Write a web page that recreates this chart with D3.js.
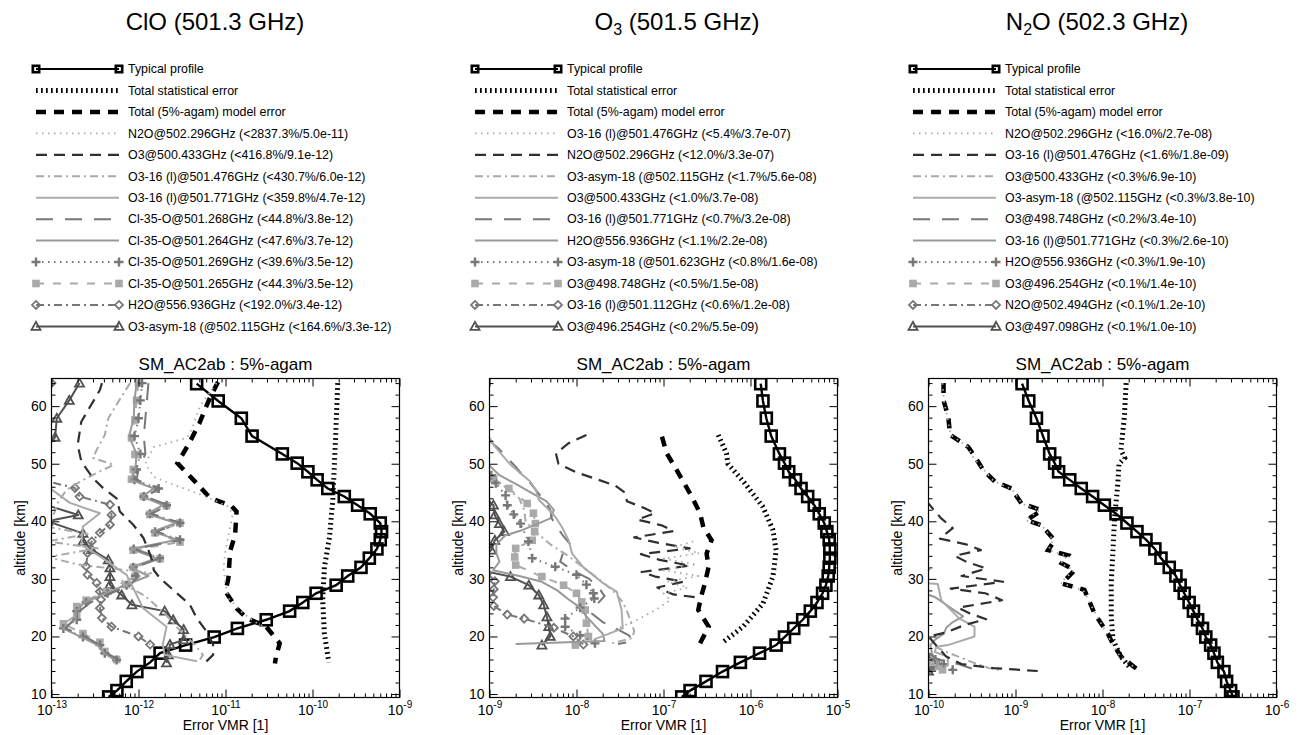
<!DOCTYPE html>
<html><head><meta charset="utf-8">
<script src="https://cdn.jsdelivr.net/npm/d3@7"></script>
<style>body{margin:0;background:#fff;} svg{display:block;font-family:"Liberation Sans",Arial,sans-serif;}</style>
</head><body><svg id="c" width="1302" height="735"></svg>
<script>
// ---------------- DATA ----------------
// altitude grid of the typical profiles [km]
const profileAlt = [9.5,10.6,12.2,13.9,15.5,17.1,18.5,19.9,21.4,22.9,24.4,25.9,27.5,28.9,30.5,32.0,33.6,35.2,36.8,38.2,39.7,41.3,42.8,44.3,45.7,47.2,48.6,50.1,51.7,54.8,57.9,60.9,63.9];

// ---- Panel 1 : ClO ----
const cloTitle = ["ClO", "", " (501.3 GHz)"];
const cloTicks = [1e-13,1e-12,1e-11,1e-10,1e-9];
const cloTypical = [4.54e-13,5.65e-13,7.23e-13,9.57e-13,1.36e-12,1.77e-12,3.48e-12,7.41e-12,1.37e-11,2.94e-11,5.46e-11,7.74e-11,1.10e-10,1.87e-10,2.54e-10,3.61e-10,4.50e-10,5.50e-10,6.01e-10,6.22e-10,6.01e-10,4.61e-10,3.30e-10,2.32e-10,1.50e-10,1.13e-10,8.85e-11,6.67e-11,4.50e-11,2.02e-11,1.52e-11,8.24e-12,4.66e-12];
const cloStat = [[64,1.95e-10],[55,1.85e-10],[47,1.75e-10],[43.7,1.71e-10],[37.3,1.57e-10],[32,1.37e-10],[26.3,1.31e-10],[20.5,1.37e-10],[15.5,1.54e-10]];
const cloModel = [[64.2,8.2e-12],[61.4,6.6e-12],[57,5.0e-12],[53.3,3.74e-12],[50.1,2.8e-12],[46.9,4.47e-12],[44.1,6.6e-12],[42.6,1.18e-11],[41.7,1.34e-11],[37.7,1.29e-11],[34.8,1.13e-11],[30.1,1.08e-11],[27.8,1.0e-11],[24.9,1.34e-11],[23.2,1.75e-11],[21.7,2.94e-11],[18.8,4.2e-11],[16.5,3.8e-11],[15.3,3.7e-11]];
const cloS1 = [[64,7.9e-12],[60,5.1e-12],[56,4.1e-12],[54.5,3.6e-12],[52.9,1.5e-12],[50,1.2e-12],[47.7,1.5e-12],[46.3,2.6e-12],[44.5,5.5e-12],[42.5,1.1e-11],[41,1.2e-11],[38,1.1e-11],[35,1.0e-11],[32,9.5e-12],[29,1.0e-11],[26.5,1.1e-11],[24,1.6e-11],[22.5,2.2e-11],[21.5,2.9e-11]];
const cloS2 = [[64,3.8e-13],[62.8,3.6e-13],[57.3,2.2e-13],[53.3,2.0e-13],[50.4,2.2e-13],[47.5,3.0e-13],[45.8,3.9e-13],[44.0,5.6e-13],[41.7,6.1e-13],[39.4,8.7e-13],[37.1,1.14e-12],[35,1.3e-12],[33,1.45e-12],[31.5,1.5e-12],[30.1,1.77e-12],[27.8,2.63e-12],[25.5,3.9e-12],[23.2,4.66e-12],[20.9,6.05e-12],[18.6,7.2e-12],[16.8,7.2e-12],[15.1,5.5e-12]];
const cloS3 = [[64,8.0e-13],[61,6.0e-13],[57.9,4.5e-13],[55,4.1e-13],[52.4,3.3e-13],[51,3.0e-13],[49.8,5.2e-13],[48.5,3.4e-13],[47,2.2e-13],[45.5,1.5e-13],[43.5,1.2e-13],[41,1.05e-13],[39,9.5e-14],[37.8,2.6e-13],[36.5,9e-14],[35.3,3.4e-13],[33.8,9e-14],[32.5,2.0e-13],[31,1.4e-12],[29.5,6e-13],[27,1.2e-12],[24,2.0e-12],[21,3.0e-12],[18.5,4.5e-12],[16.8,5.5e-12],[15.8,5.0e-12]];
const cloS4 = [[47,8e-14],[45.8,9.5e-14],[43.2,1.63e-13],[41.4,3.6e-13],[39.1,2.3e-13],[35.9,2.2e-13],[33.9,3.6e-13],[30.7,7.3e-13],[27.8,9.1e-13],[24.9,1.13e-12],[21.7,2.1e-12],[18.6,1.9e-12],[16.8,2.0e-12],[15.7,4.7e-12]];
const cloS5 = [[64,1.3e-12],[61,1.25e-12],[57.9,1.2e-12],[54.8,1.15e-12],[51.7,1.2e-12],[49,1.0e-12],[47.2,9.5e-13],[45.7,1.75e-12],[44.3,1.2e-12],[42.8,2.2e-12],[41.3,1.4e-12],[39.7,3.1e-12],[38.2,1.6e-12],[36.8,3.2e-12],[35.2,9e-13],[33.6,1.8e-12],[32,9e-13],[30.5,1.0e-12],[28.9,8.0e-13],[27.5,4.8e-13],[25.9,2.8e-13],[24.4,2.1e-13],[22.9,1.8e-13],[21.4,1.45e-13],[19.9,2.5e-13],[18.5,3.6e-13],[17.1,4.3e-13],[15.9,6.0e-13]];
const cloS6 = [[64,9.5e-13],[61,9.0e-13],[57.9,8.8e-13],[54.8,7.8e-13],[51.7,9.5e-13],[49,9.2e-13],[47.2,8.2e-13],[45.7,1.5e-12],[44.3,1.1e-12],[42.8,1.9e-12],[41.3,1.25e-12],[39.7,2.7e-12],[38.2,1.45e-12],[36.8,2.8e-12],[35.2,8.2e-13],[33.6,1.6e-12],[32,8.2e-13],[30.5,1.3e-12],[28.9,7.0e-13],[27.5,4.2e-13],[25.9,2.4e-13],[24.4,1.9e-13],[22.9,1.9e-13],[21.4,1.35e-13],[19.9,2.2e-13],[18.5,3.4e-13],[17.1,4.0e-13],[15.9,5.4e-13]];
const cloS7 = [[64,1.1e-12],[61,1.05e-12],[57.9,1.0e-12],[54.8,9.0e-13],[51.7,1.05e-12],[49,9.5e-13],[47.2,9.0e-13],[45.7,1.7e-12],[44.3,1.15e-12],[42.8,2.1e-12],[41.3,1.35e-12],[39.7,3.0e-12],[38.2,1.55e-12],[36.8,3.0e-12],[35.2,8.8e-13],[33.6,1.75e-12],[32,8.7e-13],[30.5,9.2e-13],[28.9,7.3e-13],[27.5,4.4e-13],[25.9,2.5e-13],[24.4,1.95e-13],[22.9,1.95e-13],[21.4,1.37e-13],[19.9,2.3e-13],[18.5,3.6e-13],[17.1,4.1e-13],[15.9,5.6e-13]];
const cloS8 = [[64,1.0e-12],[61,9.5e-13],[57.6,9.1e-13],[54.5,8.3e-13],[51.6,9.1e-13],[49,8.7e-13],[47.3,8.3e-13],[45.6,1.6e-12],[44.3,1.14e-12],[42.7,2.1e-12],[41.2,1.35e-12],[39.7,3.0e-12],[38.0,1.55e-12],[36.4,3.0e-12],[35.0,8.7e-13],[33.5,1.77e-12],[32.0,8.7e-13],[30.4,9.1e-13],[29.0,7.3e-13],[27.8,4.3e-13],[26.3,2.5e-13],[25.2,1.95e-13],[23.7,1.95e-13],[22.2,1.37e-13],[20.5,2.3e-13],[19.0,3.6e-13],[17.4,4.1e-13],[16.0,5.6e-13]];
const cloS9 = [[64,1.0e-13],[61,8e-14],[47,8.5e-14],[45.8,1.86e-13],[44.3,2.1e-13],[42.9,4.7e-13],[41.1,4.9e-13],[39.4,4.7e-13],[38.0,3.6e-13],[36.5,2.9e-13],[34.5,2.6e-13],[32.2,2.5e-13],[30.7,2.6e-13],[29.3,3.3e-13],[27.8,3.6e-13],[26.4,3.7e-13],[24.9,3.6e-13],[23.2,3.8e-13],[21.7,4.9e-13],[20.0,1.0e-12],[18.6,1.36e-12]];
const cloS10 = [[64,2.1e-13],[61,1.6e-13],[57.9,1.15e-13],[54.6,1.1e-13],[52,8e-14],[43,8e-14],[41.1,2.03e-13],[40,9e-14],[37.9,2.3e-13],[36.5,2.3e-13],[35.1,2.9e-13],[33.3,4.5e-13],[31.9,4.7e-13],[30.4,4.7e-13],[29,4.7e-13],[27.2,6.4e-13],[25.5,8.4e-13],[24.4,2.0e-12],[22.9,2.5e-12],[21.2,3.3e-12],[19.4,3.3e-12],[18.6,2.3e-12],[16.8,2.2e-12],[15.4,2.1e-12]];
const cloLabels = ["Typical profile","Total statistical error","Total (5%-agam) model error",
 "N2O@502.296GHz (<2837.3%/5.0e-11)","O3@500.433GHz (<416.8%/9.1e-12)","O3-16 (l)@501.476GHz (<430.7%/6.0e-12)",
 "O3-16 (l)@501.771GHz (<359.8%/4.7e-12)","Cl-35-O@501.268GHz (<44.8%/3.8e-12)","Cl-35-O@501.264GHz (<47.6%/3.7e-12)",
 "Cl-35-O@501.269GHz (<39.6%/3.5e-12)","Cl-35-O@501.265GHz (<44.3%/3.5e-12)","H2O@556.936GHz (<192.0%/3.4e-12)",
 "O3-asym-18 (@502.115GHz (<164.6%/3.3e-12)"];

// ---- Panel 2 : O3 ----
const o3Title = ["O", "3", " (501.5 GHz)"];
const o3Ticks = [1e-9,1e-8,1e-7,1e-6,1e-5];
const o3Typical = [1.62e-7,2.02e-7,3.08e-7,4.77e-7,7.65e-7,1.27e-6,1.97e-6,2.46e-6,3.14e-6,3.98e-6,4.87e-6,5.81e-6,6.74e-6,7.36e-6,7.82e-6,8.03e-6,8.17e-6,8.17e-6,8.03e-6,7.55e-6,7.04e-6,6.17e-6,5.41e-6,4.54e-6,3.81e-6,3.28e-6,2.75e-6,2.46e-6,2.15e-6,1.73e-6,1.52e-6,1.39e-6,1.31e-6];
const o3Stat = [[55,4.26e-7],[51.8,5.3e-7],[50,5.5e-7],[46.6,8.6e-7],[42.5,1.39e-6],[38.5,1.81e-6],[35,1.97e-6],[30.4,1.81e-6],[25.7,1.39e-6],[21.7,8.2e-7],[18.8,4.65e-7]];
const o3Model = [[54.7,9.6e-8],[51.8,1.09e-7],[48.9,1.42e-7],[44.3,2.11e-7],[41.4,2.63e-7],[39,2.87e-7],[36.7,3.57e-7],[34.4,3.13e-7],[32.1,3.3e-7],[29.2,2.99e-7],[26.9,2.7e-7],[24.6,2.51e-7],[21.7,3.3e-7],[18.8,2.63e-7]];
const o3S1 = [[36.5,2.2e-7],[35.5,1.3e-7],[34.5,2.6e-7],[33.5,1.0e-7],[32.5,2.4e-7],[31.5,1.0e-7],[30.5,2.5e-7],[29.5,1.1e-7],[28.5,1.9e-7],[27.5,1.0e-7],[26.3,1.2e-7],[24.8,8.5e-8],[23.2,5.5e-8],[21.7,3.3e-8],[20.2,2.2e-8]];
const o3S2 = [[55,1.3e-8],[53.5,8e-9],[51.8,5.8e-9],[50,6.2e-9],[48.5,1.0e-8],[47.2,1.8e-8],[46.2,2.8e-8],[45,3.6e-8],[43.5,3.8e-8],[42.3,6.0e-8],[41.4,8.0e-8],[40.3,5.0e-8],[39.3,9.5e-8],[38.3,1.3e-7],[37.2,4.6e-8],[36.3,8.5e-8],[35.3,2.0e-7],[34.3,5.5e-8],[33.3,9e-8],[32.3,2.0e-7],[31.2,5.6e-8],[30.4,8e-8],[29.5,1.7e-7],[28.5,8.5e-8],[27.3,1.3e-7],[26.8,2.4e-7]];
const o3S3 = [[48,1.0e-9],[46,1.5e-9],[44,2.2e-9],[42,2.5e-9],[40,2.6e-9],[38,3.5e-9],[36,5.0e-9],[34,8e-9],[32,1.2e-8],[30,1.8e-8],[28,2.6e-8],[26,3.4e-8],[24,3.9e-8],[22.5,4.2e-8],[21,4.6e-8],[19.7,4.4e-8],[18.8,2.5e-8]];
const o3S4 = [[54.5,1.0e-9],[53,1.15e-9],[51.5,1.4e-9],[50,1.7e-9],[48.5,2.2e-9],[47,2.9e-9],[45.5,3.4e-9],[43.7,3.7e-9],[42,4.8e-9],[40.8,5.7e-9],[39,6.8e-9],[36.7,8.1e-9],[34.4,8.9e-9],[32,1.2e-8],[29.2,2.04e-8],[27.8,2.9e-8],[24.6,3.3e-8],[21.4,3.4e-8],[20.2,2.1e-8],[19.5,1.6e-8]];
const o3S5 = [[54,1.0e-9],[52.5,1.3e-9],[51,1.6e-9],[49.5,2.0e-9],[48,2.4e-9],[46.5,3.0e-9],[45,3.6e-9],[43.5,4.3e-9],[42,5.0e-9],[40.5,5.2e-9],[39,6.0e-9],[37.5,7.0e-9],[36,8.5e-9],[34.5,7.0e-9],[33,6.5e-9],[31.5,9e-9],[30,1.4e-8],[28.5,1.8e-8],[27,2.1e-8],[25.5,1.7e-8],[24,1.5e-8],[22.5,2.0e-8],[21.2,3.0e-8],[20.2,4.0e-8],[19.2,4.5e-8],[18.7,3.0e-8]];
const o3S6 = [[50,9.5e-10],[48,1.3e-9],[46.5,2.0e-9],[45,3.0e-9],[43.5,4.5e-9],[42,5.5e-9],[40.5,5.0e-9],[39.5,3.5e-9],[38.5,2.4e-9],[37.5,1.5e-9],[36,1.2e-9],[34.5,1.2e-9],[33,1.3e-9],[31.5,1.1e-9],[30.5,2.2e-9],[29.5,4.0e-9],[28,6e-9],[26.5,8e-9],[25,1.1e-8],[23.5,1.3e-8],[22,1.6e-8],[20.5,2.0e-8],[19.2,2.1e-8],[18.7,2.0e-9]];
const o3S7 = [[48,1.05e-9],[46.6,1.18e-9],[44.5,1.53e-9],[42.8,1.6e-9],[41.2,1.9e-9],[39.6,2.27e-9],[36.5,2.8e-9],[33.6,3.1e-9],[32.1,5.7e-9],[30.7,1.0e-8],[29,1.3e-8],[27.5,1.56e-8],[26.6,1.6e-8],[25,1.1e-8],[23.1,7.4e-9],[21.7,7.4e-9],[20.2,1.1e-8],[18.8,1.63e-8]];
const o3S8 = [[47.4,1.12e-9],[45.7,1.67e-9],[43.1,2.71e-9],[41.4,3.2e-9],[39.6,3.37e-9],[38.2,3.3e-9],[36.7,3.1e-9],[35.3,2.0e-9],[33.8,1.95e-9],[32.4,2.0e-9],[30.4,4.0e-9],[28.9,7.1e-9],[27.5,1.0e-8],[26,1.15e-8],[24.6,1.26e-8],[22.3,1.3e-8],[20,1.37e-8],[18.5,9.7e-9]];
const o3S9 = [[31,9.5e-10],[29.6,1.15e-9],[28.2,1.12e-9],[26.8,1.1e-9],[25.3,1.12e-9],[23.8,1.6e-9],[23.1,2.5e-9],[21.5,5.5e-9],[20,9.2e-9],[18.6,1.2e-8]];
const o3S10 = [[44,9e-10],[42.8,1.11e-9],[41.1,1.15e-9],[39.6,1.3e-9],[38.2,1.48e-9],[36.7,1.15e-9],[35,1.05e-9],[33.5,8e-10],[31.5,8e-10],[30.4,1.74e-9],[28.9,2.83e-9],[27.2,3.68e-9],[25.5,4.2e-9],[23.4,4.57e-9],[21.7,4.8e-9],[20,5.0e-9],[18.5,4.0e-9]];
const o3Labels = ["Typical profile","Total statistical error","Total (5%-agam) model error",
 "O3-16 (l)@501.476GHz (<5.4%/3.7e-07)","N2O@502.296GHz (<12.0%/3.3e-07)","O3-asym-18 (@502.115GHz (<1.7%/5.6e-08)",
 "O3@500.433GHz (<1.0%/3.7e-08)","O3-16 (l)@501.771GHz (<0.7%/3.2e-08)","H2O@556.936GHz (<1.1%/2.2e-08)",
 "O3-asym-18 (@501.623GHz (<0.8%/1.6e-08)","O3@498.748GHz (<0.5%/1.5e-08)","O3-16 (l)@501.112GHz (<0.6%/1.2e-08)",
 "O3@496.254GHz (<0.2%/5.5e-09)"];

// ---- Panel 3 : N2O ----
const n2oTitle = ["N", "2", "O (502.3 GHz)"];
const n2oTicks = [1e-10,1e-9,1e-8,1e-7,1e-6];
const n2oTypical = [3.16e-7,2.97e-7,2.67e-7,2.49e-7,2.09e-7,1.91e-7,1.75e-7,1.54e-7,1.41e-7,1.24e-7,1.11e-7,9.9e-8,8.7e-8,7.8e-8,6.98e-8,5.85e-8,4.7e-8,4.0e-8,3.16e-8,2.49e-8,1.91e-8,1.43e-8,1.05e-8,7.7e-9,5.7e-9,4.2e-9,3.13e-9,2.82e-9,2.47e-9,2.07e-9,1.74e-9,1.42e-9,1.19e-9];
const n2oStat = [[64,1.87e-8],[58.1,1.78e-8],[52.4,1.63e-8],[51,1.8e-8],[50,1.55e-8],[46.6,1.5e-8],[43.7,1.44e-8],[40.8,1.38e-8],[35,1.32e-8],[29.2,1.26e-8],[23.4,1.26e-8],[19.4,1.32e-8],[16.5,1.63e-8],[14.7,2.04e-8]];
const n2oModel = [[64,1.49e-10],[61,1.49e-10],[58.1,1.69e-10],[55,1.77e-10],[52.9,2.87e-10],[51.2,3.42e-10],[48.9,4.26e-10],[46.9,5.8e-10],[45.7,9.0e-10],[43.1,1.17e-9],[41.9,1.99e-9],[40.2,1.34e-9],[39.3,1.99e-9],[36.7,2.82e-9],[35,2.37e-9],[34.1,4.0e-9],[32.7,3.4e-9],[31.5,4.8e-9],[29.2,3.4e-9],[28.1,6.2e-9],[24,8.1e-9],[20.5,1.15e-8],[18.8,1.31e-8],[16.5,1.64e-8],[14.2,2.54e-8]];
const n2oS1 = [[64,1.45e-10],[61,1.5e-10],[58,1.65e-10],[55,1.8e-10],[53,2.8e-10],[51,3.3e-10],[49,4.3e-10],[47,5.6e-10],[45.5,9.2e-10],[43,1.2e-9],[42,1.9e-9],[40.2,1.3e-9],[39.3,2.0e-9],[36.8,2.7e-9],[35,2.4e-9],[34,3.9e-9],[32.7,3.3e-9],[31.5,4.7e-9],[29.3,3.3e-9],[28,6.0e-9],[24,8.3e-9],[20.5,1.12e-8],[18.8,1.28e-8],[16.5,1.6e-8],[14.3,2.5e-8]];
const n2oS2 = [[43.5,9.5e-11],[42,1.15e-10],[40.5,1.4e-10],[38.8,1.9e-10],[37,1.35e-10],[36,2.7e-10],[35,4.0e-10],[34,2.0e-10],[33,2.7e-10],[31.8,4.6e-10],[30.5,2.4e-10],[29.5,7.2e-10],[28.3,1.8e-10],[27.5,4.5e-10],[26.3,7.0e-10],[25,2.2e-10],[24,3.0e-10],[23,4.6e-10],[22,2.6e-10],[20.7,1.6e-10],[20,1.0e-10],[18,1.3e-10],[16.5,1.6e-10],[15.2,2.4e-10],[14.5,5.6e-10],[14.0,1.8e-9]];
const n2oS3 = [[32.5,9e-11],[31.5,1.05e-10],[30,9e-11],[20,9.5e-11],[18.5,1.1e-10],[17.5,1.5e-10],[16.5,2.2e-10],[15.5,3.2e-10],[14.5,5.0e-10],[14.2,6.5e-10]];
const n2oS4 = [[29.3,9e-11],[29.1,1.28e-10],[26.3,1.4e-10],[23.1,2.27e-10],[21.7,3.38e-10],[20,3.38e-10],[18.5,1.67e-10],[18.2,1.23e-10],[17.3,1.18e-10],[16.5,1.67e-10],[15,1.67e-10],[14.2,1.4e-10]];
const n2oS5 = [[17,1.0e-10],[16,1.3e-10],[15.2,2.2e-10],[14.4,3.2e-10]];
const n2oS6 = [[27.5,9e-11],[26.8,1.2e-10],[25.5,1.6e-10],[23.5,2.5e-10],[22.5,1.9e-10],[21.5,1.6e-10],[20.5,1.5e-10],[19.5,1.2e-10],[18.5,1.05e-10],[17,1.1e-10],[15.5,1.3e-10],[14.5,1.2e-10]];
const n2oS7 = [[16,1.2e-10],[15.2,1.5e-10],[14.2,1.9e-10]];
const n2oS8 = [[15.5,1.1e-10],[14.8,1.3e-10],[14.2,1.45e-10]];
const n2oS9 = [[16.3,1.05e-10],[15.6,1.2e-10],[14.8,1.15e-10],[14.2,1.0e-10]];
const n2oS10 = [[16,1.0e-10],[15.3,1.1e-10],[14.6,1.05e-10],[14,1.0e-10]];
const n2oLabels = ["Typical profile","Total statistical error","Total (5%-agam) model error",
 "N2O@502.296GHz (<16.0%/2.7e-08)","O3-16 (l)@501.476GHz (<1.6%/1.8e-09)","O3@500.433GHz (<0.3%/6.9e-10)",
 "O3-asym-18 (@502.115GHz (<0.3%/3.8e-10)","O3@498.748GHz (<0.2%/3.4e-10)","O3-16 (l)@501.771GHz (<0.3%/2.6e-10)",
 "H2O@556.936GHz (<0.3%/1.9e-10)","O3@496.254GHz (<0.1%/1.4e-10)","N2O@502.494GHz (<0.1%/1.2e-10)",
 "O3@497.098GHz (<0.1%/1.0e-10)"];

const panelSubtitle = "SM_AC2ab : 5%-agam";
const xAxisLabel = "Error VMR [1]";
const yAxisLabel = "altitude [km]";
const yTicks = [10,20,30,40,50,60];

// ---------------- DRAWING ----------------
const svg = d3.select("#c");
const PW = 348, TOP = 378.5, BOT = 697.5;

const panels = [
  {left:51.5, ticks:cloTicks, title:cloTitle, titleX:215, legX:36, labels:cloLabels, typical:cloTypical, stat:cloStat, model:cloModel,
   series:[cloS1,cloS2,cloS3,cloS4,cloS5,cloS6,cloS7,cloS8,cloS9,cloS10]},
  {left:489.5, ticks:o3Ticks, title:o3Title, titleX:677, legX:475, labels:o3Labels, typical:o3Typical, stat:o3Stat, model:o3Model,
   series:[o3S1,o3S2,o3S3,o3S4,o3S5,o3S6,o3S7,o3S8,o3S9,o3S10]},
  {left:928.5, ticks:n2oTicks, title:n2oTitle, titleX:1097, legX:913, labels:n2oLabels, typical:n2oTypical, stat:n2oStat, model:n2oModel,
   series:[n2oS1,n2oS2,n2oS3,n2oS4,n2oS5,n2oS6,n2oS7,n2oS8,n2oS9,n2oS10]}
];

const styles = [
  {color:"#aaaaaa", width:1.8, dash:"1.5,4.5", marker:null},
  {color:"#303030", width:2.2, dash:"11,7", marker:null},
  {color:"#aaaaaa", width:2, dash:"8,4,2,4", marker:null},
  {color:"#aaaaaa", width:2, dash:null, marker:null},
  {color:"#777777", width:2, dash:"17,12", marker:null},
  {color:"#999999", width:2, dash:null, marker:null},
  {color:"#777777", width:2, dash:"1.5,4.5", marker:"plus"},
  {color:"#aaaaaa", width:2, dash:"8,9", marker:"square"},
  {color:"#777777", width:2, dash:"8,4,2,4", marker:"diamond"},
  {color:"#505050", width:2, dash:null, marker:"triangle"}
];
const statStyle = {color:"#000", width:5, dash:"1.7,3.3"};
const modelStyle = {color:"#000", width:4.5, dash:"10,8"};

function drawMarker(g, type, x, y, color){
  if(type==="plus"){
    g.append("path").attr("d",`M${x-4.5},${y}H${x+4.5}M${x},${y-4.5}V${y+4.5}`).attr("stroke",color).attr("stroke-width",2.4).attr("fill","none");
  } else if(type==="square"){
    g.append("rect").attr("x",x-3.8).attr("y",y-3.8).attr("width",7.6).attr("height",7.6).attr("fill",color);
  } else if(type==="diamond"){
    g.append("path").attr("d",`M${x},${y-4}L${x+4},${y}L${x},${y+4}L${x-4},${y}Z`).attr("stroke",color).attr("stroke-width",1.8).attr("fill","none");
  } else if(type==="triangle"){
    g.append("path").attr("d",`M${x},${y-4.5}L${x+4.5},${y+3.5}L${x-4.5},${y+3.5}Z`).attr("stroke",color).attr("stroke-width",1.8).attr("fill","none");
  } else if(type==="bigsquare"){
    g.append("rect").attr("x",x-5.5).attr("y",y-5.5).attr("width",11).attr("height",11).attr("fill","none").attr("stroke",color).attr("stroke-width",2.6);
  } else if(type==="legsquare"){
    g.append("rect").attr("x",x-3.2).attr("y",y-3.2).attr("width",6.4).attr("height",6.4).attr("fill","none").attr("stroke",color).attr("stroke-width",2.6);
  }
}

const ySc = d3.scaleLinear().domain([9.4, 64.8]).range([BOT, TOP]);

panels.forEach((p, pi) => {
  const x = d3.scaleLog().domain([p.ticks[0], p.ticks[p.ticks.length-1]]).range([p.left, p.left+PW]);
  const cx = p.left + PW/2;

  // title
  const t = svg.append("text").attr("x", p.titleX).attr("y", 30).attr("text-anchor","middle")
     .attr("font-size", 24).attr("fill","#000");
  t.append("tspan").text(p.title[0]);
  if(p.title[1]) { t.append("tspan").attr("font-size",16).attr("dy",5).text(p.title[1]); t.append("tspan").attr("dy",-5).text(p.title[2]); }
  else t.append("tspan").text(p.title[2]);

  // legend
  const lx0 = p.legX, lx1 = p.legX + 83;
  p.labels.forEach((lab, i) => {
    const ly = 69 + i*21.45;
    const lg = svg.append("g");
    let st;
    if(i===0) st = {color:"#000", width:2, dash:null, marker:"legsquare"};
    else if(i===1) st = statStyle;
    else if(i===2) st = modelStyle;
    else st = styles[i-3];
    lg.append("line").attr("x1",lx0).attr("x2",lx1).attr("y1",ly).attr("y2",ly)
      .attr("stroke",st.color).attr("stroke-width",st.width).attr("stroke-dasharray",st.dash);
    if(st.marker){ drawMarker(lg, st.marker, lx0, ly, st.color); drawMarker(lg, st.marker, lx1, ly, st.color); }
    lg.append("text").attr("x", lx0 + 92).attr("y", ly + 4.3).attr("font-size", 12.4).attr("fill","#000").text(lab);
  });

  // subtitle
  svg.append("text").attr("x", cx).attr("y", 370).attr("text-anchor","middle").attr("font-size",17).text(panelSubtitle);

  // clip
  const clipId = "clip"+pi;
  svg.append("clipPath").attr("id",clipId).append("rect").attr("x",p.left).attr("y",TOP).attr("width",PW).attr("height",BOT-TOP);
  const plot = svg.append("g").attr("clip-path",`url(#${clipId})`);

  const line = d3.line().x(d=>x(d[1])).y(d=>ySc(d[0]));

  // typical profile
  const typ = profileAlt.map((a,i)=>[a, p.typical[i]]);
  plot.append("path").attr("d", line(typ)).attr("fill","none").attr("stroke","#000").attr("stroke-width",2.4);
  typ.forEach(d => drawMarker(plot, "bigsquare", x(d[1]), ySc(d[0]), "#000"));

  // stat & model
  plot.append("path").attr("d", line(p.stat)).attr("fill","none").attr("stroke",statStyle.color)
    .attr("stroke-width",statStyle.width).attr("stroke-dasharray",statStyle.dash);
  plot.append("path").attr("d", line(p.model)).attr("fill","none").attr("stroke",modelStyle.color)
    .attr("stroke-width",modelStyle.width).attr("stroke-dasharray",modelStyle.dash);

  // contributions (draw from last to first so the first sits on top)
  for(let k = p.series.length-1; k >= 0; k--){
    const s = p.series[k], st = styles[k];
    plot.append("path").attr("d", line(s)).attr("fill","none").attr("stroke",st.color)
      .attr("stroke-width",st.width).attr("stroke-dasharray",st.dash).attr("stroke-linejoin","round");
    if(st.marker) s.forEach(d => drawMarker(plot, st.marker, x(d[1]), ySc(d[0]), st.color));
  }

  // frame
  svg.append("rect").attr("x",p.left).attr("y",TOP).attr("width",PW).attr("height",BOT-TOP)
    .attr("fill","none").attr("stroke","#000").attr("stroke-width",1.2);

  // x ticks (major + log minor, all four sides inward)
  const minor = [];
  for(let k=0;k<p.ticks.length-1;k++) for(let m=2;m<=9;m++) minor.push(p.ticks[k]*m);
  const axB = svg.append("g").attr("transform",`translate(0,${BOT})`)
    .call(d3.axisBottom(x).tickValues(p.ticks).tickSize(-8).tickPadding(7).tickFormat(()=>""));
  svg.append("g").attr("transform",`translate(0,${BOT})`).call(d3.axisBottom(x).tickValues(minor).tickSize(-4).tickFormat(()=>""));
  svg.append("g").attr("transform",`translate(0,${TOP})`).call(d3.axisTop(x).tickValues(p.ticks).tickSize(-8).tickFormat(()=>""));
  svg.append("g").attr("transform",`translate(0,${TOP})`).call(d3.axisTop(x).tickValues(minor).tickSize(-4).tickFormat(()=>""));
  axB.selectAll(".tick text").each(function(d){
    const el = d3.select(this);
    el.text(null).attr("font-size",14).attr("font-family",'"Liberation Sans",Arial,sans-serif').attr("fill","#000").attr("dy","0.75em");
    el.append("tspan").text("10");
    el.append("tspan").attr("font-size",10).attr("dy","-0.75em").text(String(Math.round(Math.log10(d))));
  });

  // y ticks
  const yMinor = d3.range(12, 65, 2).filter(v => v%10 !== 0);
  svg.append("g").attr("transform",`translate(${p.left},0)`)
    .call(d3.axisLeft(ySc).tickValues(yTicks).tickSize(-8).tickPadding(5).tickFormat(d3.format("d")))
    .selectAll("text").attr("font-size",14).attr("font-family",'"Liberation Sans",Arial,sans-serif').attr("fill","#000");
  svg.append("g").attr("transform",`translate(${p.left},0)`).call(d3.axisLeft(ySc).tickValues(yMinor).tickSize(-4).tickFormat(()=>""));
  svg.append("g").attr("transform",`translate(${p.left+PW},0)`).call(d3.axisRight(ySc).tickValues(yTicks).tickSize(-8).tickFormat(()=>""));
  svg.append("g").attr("transform",`translate(${p.left+PW},0)`).call(d3.axisRight(ySc).tickValues(yMinor).tickSize(-4).tickFormat(()=>""));

  // axis labels
  svg.append("text").attr("x", cx).attr("y", 730).attr("text-anchor","middle").attr("font-size",14).text(xAxisLabel);
  svg.append("text").attr("transform",`translate(${p.left-27},${(TOP+BOT)/2}) rotate(-90)`).attr("text-anchor","middle")
    .attr("font-size",14).text(yAxisLabel);
});
svg.selectAll(".domain").remove();
svg.selectAll(".tick line").attr("stroke","#000").attr("stroke-width",1);
</script></body></html>
